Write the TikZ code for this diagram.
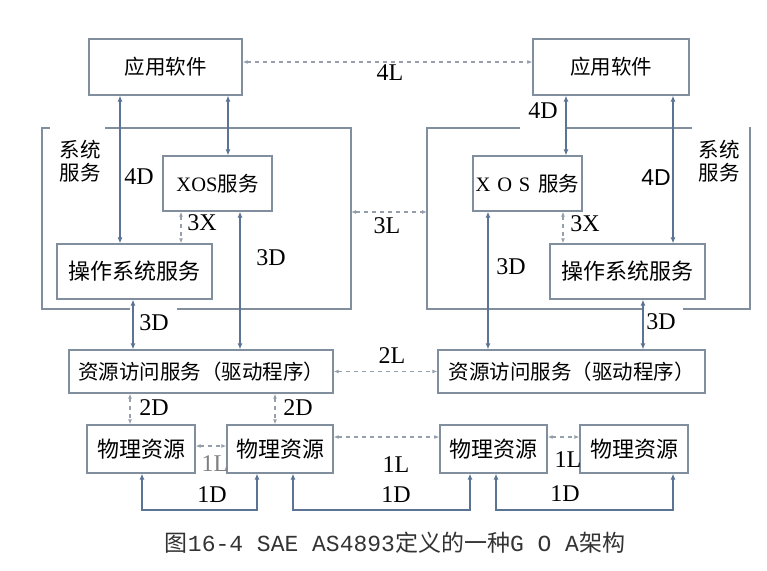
\documentclass[tikz,border=0pt]{standalone}
\usepackage{fontspec}
\setmainfont{Liberation Serif}
\newfontfamily\cjk{Noto Sans CJK SC}
\newfontfamily\capmono{Liberation Mono}
\newfontfamily\labsans{Liberation Sans}
\usetikzlibrary{arrows.meta,calc}
\definecolor{boxgray}{RGB}{128,142,158}
\definecolor{linkblue}{RGB}{92,116,148}
\definecolor{dashgray}{RGB}{150,160,172}
\tikzset{
  box/.style={
    draw=boxgray,
    line width=1.3pt,
    fill=white,
    inner sep=0pt,
    font=\cjk\fontsize{20.5}{22}\selectfont
  },
  bigbox/.style={box, font=\cjk\fontsize{22}{24}\selectfont},
  frame/.style={draw=boxgray, line width=1.3pt},
  link/.style={
    linkblue,
    line width=1.1pt,
    {Latex[length=6pt,width=5pt]}-{Latex[length=6pt,width=5pt]}
  },
  dlink/.style={
    dashgray,
    line width=1.1pt,
    dash pattern=on 4pt off 4pt,
    {Latex[length=5pt,width=4pt]}-{Latex[length=5pt,width=4pt]}
  },
  tag/.style={inner sep=1pt, font=\fontsize{24}{25}\selectfont},
  sidetag/.style={inner sep=0pt, align=center,
    font=\cjk\fontsize{20.5}{23}\selectfont}
}

\begin{document}
\begin{tikzpicture}[x=1pt,y=-1pt]
  \useasboundingbox (0,0) rectangle (767,570);
  % system service frames
  \draw[frame] (50,128) -- (42,128) -- (42,309) -- (130,309);
  \draw[frame] (105,128) -- (351,128) -- (351,309) -- (177,309);
  \draw[frame] (520,128) -- (427,128) -- (427,309) -- (643,309);
  \draw[frame] (565,128) -- (692,128);
  \draw[frame] (750,127) -- (750,309) -- (683,309);
  \coordinate (frmL) at (351,212);
  \coordinate (frmR) at (427,212);
  \node[sidetag] (sysL) at (80,161) {系统\\服务};
  \node[sidetag] (sysR) at (719,161) {系统\\服务};

  % boxes
  \node[box, minimum width=153pt, minimum height=56pt] (app1) at (165.5,67) {应用软件};
  \node[box, minimum width=156pt, minimum height=56pt] (app2) at (611,67) {应用软件};
  \node[box, minimum width=109pt, minimum height=55pt] (xos1) at (217.5,183.5) {{\rmfamily XOS}服务};
  \node[box, minimum width=109pt, minimum height=55pt] (xos2) at (527.5,183.5) {{\rmfamily X\,\,O\,\,S\,} 服务};
  \node[bigbox, minimum width=155pt, minimum height=55pt] (os1) at (134.5,271.5) {操作系统服务};
  \node[bigbox, minimum width=155pt, minimum height=55pt] (os2) at (627.5,271.5) {操作系统服务};
  \node[box, minimum width=264pt, minimum height=43pt] (res1) at (201,371.5) {资源访问服务（驱动程序）};
  \node[box, minimum width=267pt, minimum height=43pt] (res2) at (571.5,371.5) {资源访问服务（驱动程序）};
  \node[bigbox, minimum width=108pt, minimum height=48pt] (phA) at (141,449) {物理资源};
  \node[bigbox, minimum width=106pt, minimum height=48pt] (phB) at (280,449) {物理资源};
  \node[bigbox, minimum width=107pt, minimum height=48pt] (phC) at (493.5,449) {物理资源};
  \node[bigbox, minimum width=108pt, minimum height=48pt] (phD) at (634,449) {物理资源};

  % data links
  \draw[link] (120,0 |- app1.south) -- (120,0 |- os1.north);
  \draw[link] (228,0 |- app1.south) -- (228,0 |- xos1.north);
  \draw[link] (240,0 |- xos1.south) -- (240,0 |- res1.north);
  \draw[link] (133,0 |- os1.south) -- (133,0 |- res1.north);
  \draw[link] (566,0 |- app2.south) -- (566,0 |- xos2.north);
  \draw[link] (673,0 |- app2.south) -- (673,0 |- os2.north);
  \draw[link] (488,0 |- xos2.south) -- (488,0 |- res2.north);
  \draw[link] (643,0 |- os2.south) -- (643,0 |- res2.north);
  \draw[link] (142,0 |- phA.south) |- (200,510) -| (257,0 |- phB.south);
  \draw[link] (293,0 |- phB.south) |- (380,510) -| (470,0 |- phC.south);
  \draw[link] (496,0 |- phC.south) |- (580,510) -| (673,0 |- phD.south);

  % dashed links
  \draw[dlink] (181,0 |- xos1.south) -- (181,0 |- os1.north);
  \draw[dlink] (563,0 |- xos2.south) -- (563,0 |- os2.north);
  \draw[dlink] (130,0 |- res1.south) -- (130,0 |- phA.north);
  \draw[dlink] (275,0 |- res1.south) -- (275,0 |- phB.north);
  \draw[dlink] ([yshift=5pt]app1.east) -- ([yshift=5pt]app2.west);
  \draw[dlink] (frmL) -- (frmR);
  \draw[dlink] (res1.east) -- (res2.west);
  \draw[dlink] ([yshift=3pt]phA.east) -- ([yshift=3pt]phB.west);
  \draw[dlink] ([yshift=12pt]phB.east) -- ([yshift=12pt]phC.west);
  \draw[dlink] ([yshift=12pt]phC.east) -- ([yshift=12pt]phD.west);

  % labels
  \node[tag] (l4L) at (390,73) {4L};
  \node[tag] (l3L) at (387,226) {3L};
  \node[tag] (l2L) at (392,356) {2L};
  \node[tag] (l4Da) at (139,177) {4D};
  \node[tag] (l3Xa) at (202,223) {3X};
  \node[tag] (l3Da) at (271,258) {3D};
  \node[tag] (l3Db) at (154,323) {3D};
  \node[tag] (l2Da) at (154,408) {2D};
  \node[tag] (l2Db) at (298,408) {2D};
  \node[tag] (l4Db) at (543,111) {4D};
  \node[tag] (l3Xb) at (585,224) {3X};
  \node[tag, font=\labsans\fontsize{23}{25}\selectfont] (l4Dc) at (656,178) {4D};
  \node[tag] (l3Dc) at (511,267) {3D};
  \node[tag] (l3Dd) at (661,322) {3D};
  \node[tag, text=gray] (l1La) at (215,464) {1L};
  \node[tag] (l1Lb) at (396,465) {1L};
  \node[tag] (l1Lc) at (568,460) {1L};
  \node[tag] (l1Da) at (212,495) {1D};
  \node[tag] (l1Db) at (396,495) {1D};
  \node[tag] (l1Dc) at (565,494) {1D};

  % caption
  \node[inner sep=0pt, text=black!80] (cap) at (395,543)
    {\fontsize{23}{25}\selectfont{\cjk 图}{\capmono 16-4 SAE AS4893}{\cjk 定义的一种}{\capmono G O A}{\cjk 架构}};
\end{tikzpicture}
\end{document}
